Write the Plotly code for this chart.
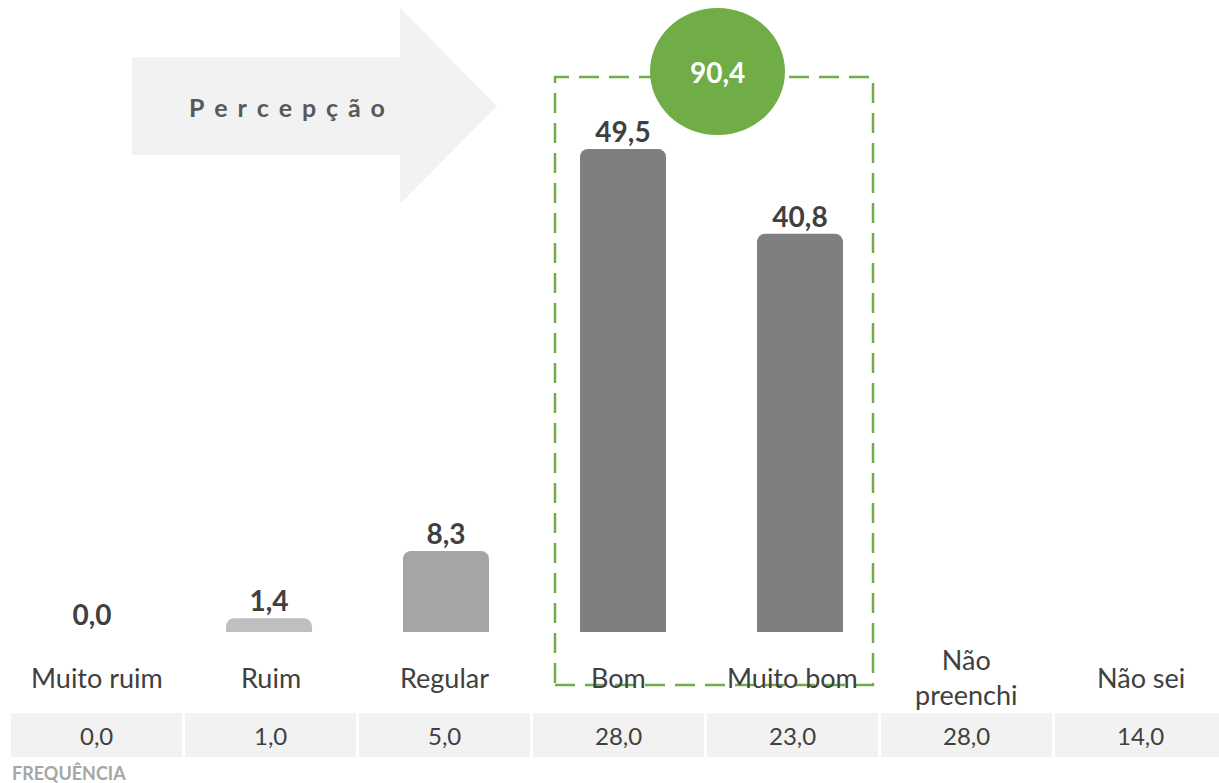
import plotly.graph_objects as go

# ---- data ----
categories = ["Muito ruim", "Ruim", "Regular", "Bom", "Muito bom", "Não\npreenchi", "Não sei"]
percent = [0.0, 1.4, 8.3, 49.5, 40.8]          # bars (first five categories)
frequency = [0.0, 1.0, 5.0, 28.0, 23.0, 28.0, 14.0]
bar_colors = ["#d9d9d9", "#bfbfbf", "#a5a5a5", "#7f7f7f", "#7f7f7f"]
positive_total = 90.4
arrow_title = "Percepção"

W, H = 1219, 783
FONT = "Lato"


def px(x):
    return x / W


def py(y):
    return 1 - y / H


def fmt(v):
    return f"{v:.1f}".replace(".", ",")


# pixel geometry of the bar axis
BAR_X0, BAR_PITCH = 92.0, 177.0
ZERO_Y, PX_PER_UNIT = 632.0, 9.76
# pixel geometry of the label / frequency row
CELL_X0, CELL_PITCH, CELL_W = 96.5, 174.0, 171.0

idx_bars = list(range(len(percent)))

fig = go.Figure()

fig.add_trace(go.Bar(
    x=idx_bars, y=percent,
    marker=dict(color=bar_colors, cornerradius=8, line=dict(width=0)),
    width=86 / BAR_PITCH,
    hoverinfo="skip",
))

fig.add_trace(go.Scatter(
    x=idx_bars, y=percent,
    mode="text",
    text=[fmt(v) for v in percent],
    textposition="top center",
    textfont=dict(family=FONT, size=28, color="#404040", weight="bold"),
    hoverinfo="skip",
))

shapes = []
annotations = []

# arrow banner
arrow_pts = [(132, 57), (400, 57), (400, 8), (497, 106), (400, 204), (400, 155), (132, 155)]
path = "M " + " L ".join(f"{px(x):.5f},{py(y):.5f}" for x, y in arrow_pts) + " Z"
shapes.append(dict(type="path", xref="paper", yref="paper", path=path,
                   fillcolor="#f2f2f2", line=dict(width=0), layer="below"))
annotations.append(dict(
    x=px(287), y=py(107), xref="paper", yref="paper", showarrow=False,
    text="\u2004\u200a".join(arrow_title), xanchor="center", yanchor="middle",
    font=dict(family=FONT, size=25, color="#595959", weight="bold"),
))

# dashed highlight around the positive answers
shapes.append(dict(type="rect", xref="paper", yref="paper",
                   x0=px(555), x1=px(873), y0=py(685), y1=py(77),
                   line=dict(color="#70ad47", width=2.5, dash="20px,10px"),
                   fillcolor="rgba(0,0,0,0)", layer="above"))

# total badge
shapes.append(dict(type="circle", xref="paper", yref="paper",
                   x0=px(650), x1=px(785), y0=py(135), y1=py(8),
                   fillcolor="#70ad47", line=dict(width=0), layer="above"))
annotations.append(dict(
    x=px(717.5), y=py(72), xref="paper", yref="paper", showarrow=False,
    text=fmt(positive_total), xanchor="center", yanchor="middle",
    font=dict(family=FONT, size=28, color="white", weight="bold"),
))

# category labels and frequency cells
for i, (cat, freq) in enumerate(zip(categories, frequency)):
    cx = CELL_X0 + CELL_PITCH * i
    annotations.append(dict(
        x=px(cx), y=py(677), xref="paper", yref="paper", showarrow=False,
        text=cat.replace("\n", "<br>"), xanchor="center", yanchor="middle",
        font=dict(family=FONT, size=27, color="#404040"),
    ))
    shapes.append(dict(type="rect", xref="paper", yref="paper",
                       x0=px(cx - CELL_W / 2), x1=px(cx + CELL_W / 2),
                       y0=py(757), y1=py(713),
                       fillcolor="#f2f2f2", line=dict(width=0), layer="below"))
    annotations.append(dict(
        x=px(cx), y=py(735), xref="paper", yref="paper", showarrow=False,
        text=fmt(freq), xanchor="center", yanchor="middle",
        font=dict(family=FONT, size=24, color="#404040"),
    ))

annotations.append(dict(
    x=px(10), y=py(773), xref="paper", yref="paper", showarrow=False,
    text="FREQUÊNCIA", xanchor="left", yanchor="middle",
    font=dict(family=FONT, size=18, color="#a6a6a6", weight="bold"),
))

fig.update_layout(
    width=W, height=H,
    margin=dict(l=0, r=0, t=0, b=0),
    paper_bgcolor="white", plot_bgcolor="white",
    showlegend=False,
    xaxis=dict(range=[-BAR_X0 / BAR_PITCH, (W - BAR_X0) / BAR_PITCH],
               visible=False, fixedrange=True),
    yaxis=dict(range=[-(H - ZERO_Y) / PX_PER_UNIT, ZERO_Y / PX_PER_UNIT],
               visible=False, fixedrange=True),
    shapes=shapes,
    annotations=annotations,
)

fig.write_html("out.html")
